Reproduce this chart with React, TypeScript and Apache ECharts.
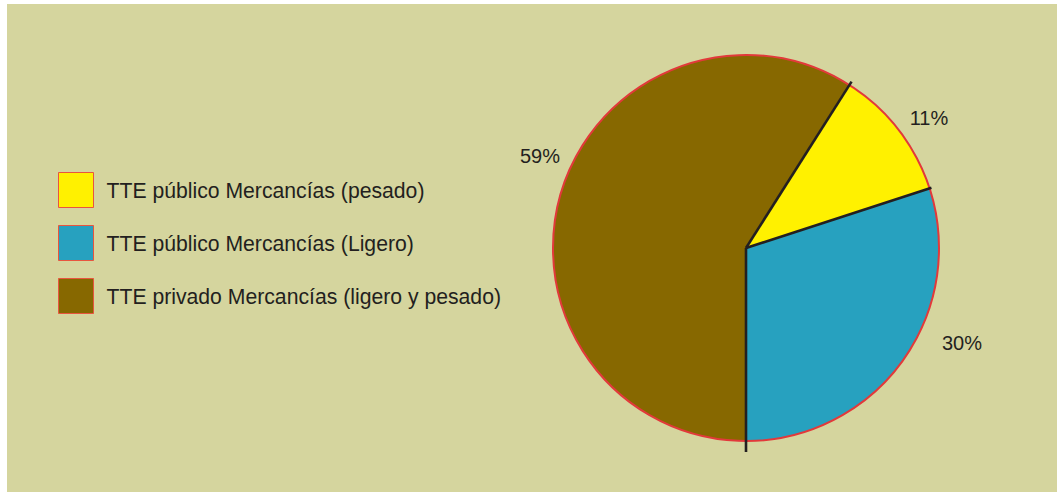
import React, { useEffect, useRef } from "react";
import * as echarts from "echarts";

const categories = [
  "TTE público Mercancías (pesado)",
  "TTE público Mercancías (Ligero)",
  "TTE privado Mercancías (ligero y pesado)",
];
const values = [11, 30, 59];
const colors = ["#fff100", "#27a1bf", "#876800"];
const labelPositions: [number, number][] = [
  [922, 114],
  [955, 339],
  [533, 152],
];
const lineExtensions = [4, 2, 11];

export default function App() {
  const ref = useRef<HTMLDivElement>(null);
  useEffect(() => {
    if (!ref.current) return;
    const chart = echarts.init(ref.current, undefined, { renderer: "svg" });
    const cx = 739;
    const cy = 244;
    const r = 193;
    const total = values.reduce((a, b) => a + b, 0);
    const startFromTop = 180 - ((values[0] + values[1]) / total) * 360;
    const boundaries: number[] = [];
    let acc = 0;
    values.forEach((v) => {
      boundaries.push(startFromTop + (acc / total) * 360);
      acc += v;
    });
    const graphics: any[] = [
      {
        type: "circle",
        shape: { cx, cy, r },
        style: { fill: "none", stroke: "#e2393a", lineWidth: 2 },
        z: 10,
      },
    ];
    boundaries.forEach((a, i) => {
      const rad = (a * Math.PI) / 180;
      const len = r + lineExtensions[i];
      graphics.push({
        type: "line",
        shape: {
          x1: cx,
          y1: cy,
          x2: cx + len * Math.sin(rad),
          y2: cy - len * Math.cos(rad),
        },
        style: { stroke: "#231f20", lineWidth: 2.6 },
        z: 11,
      });
    });
    values.forEach((v, i) => {
      graphics.push({
        type: "text",
        x: labelPositions[i][0],
        y: labelPositions[i][1],
        style: {
          text: v + "%",
          fill: "#231f20",
          font: "20px 'Liberation Sans', Arial, sans-serif",
          align: "center",
          verticalAlign: "middle",
        },
        z: 12,
      });
    });
    chart.setOption({
      animation: false,
      backgroundColor: "#d5d59e",
      legend: {
        orient: "vertical",
        left: 51,
        top: 168,
        padding: 0,
        itemWidth: 35,
        itemHeight: 35,
        itemGap: 17,
        icon: "rect",
        selectedMode: false,
        data: categories,
        textStyle: {
          fontSize: 21.2,
          fontFamily: "'Liberation Sans', Arial, sans-serif",
          color: "#231f20",
          padding: [0, 0, 0, 8],
        },
        itemStyle: { borderColor: "#e8553f", borderWidth: 1 },
      },
      series: [
        {
          type: "pie",
          center: [cx, cy],
          radius: [0, r],
          startAngle: 90 - startFromTop,
          clockwise: true,
          label: { show: false },
          labelLine: { show: false },
          emphasis: { disabled: true },
          itemStyle: { borderWidth: 0 },
          data: categories.map((name, i) => ({
            name,
            value: values[i],
            itemStyle: { color: colors[i] },
          })),
        },
      ],
      graphic: graphics,
    });
    return () => chart.dispose();
  }, []);
  return (
    <div
      ref={ref}
      style={{ position: "absolute", left: 7, top: 4, width: 1050, height: 488 }}
    />
  );
}
